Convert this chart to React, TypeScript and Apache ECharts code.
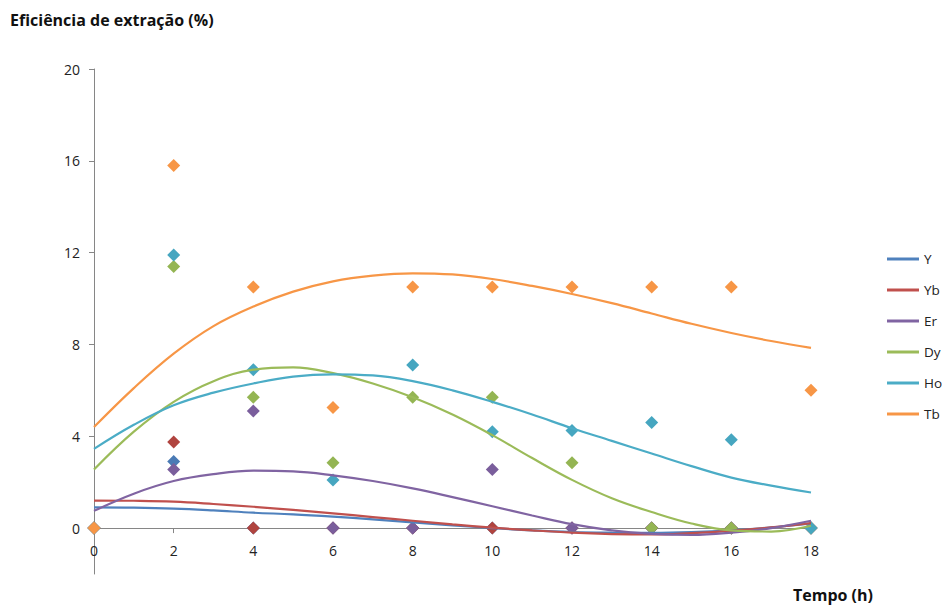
import React, { useEffect, useRef } from "react";
import * as echarts from "echarts";

// Sampling times (h) of the measured points
const hours = [0, 2, 4, 6, 8, 10, 12, 14, 16, 18];

// Measured extraction efficiency (%)
const yPts = [0, 2.9, 0, 0, 0, 0, 0, 0, 0, 0];
const ybPts = [0, 3.75, 0, 0, 0, 0, 0, 0, 0, 0];
const erPts = [0, 2.55, 5.1, 0, 0, 2.55, 0, 0, 0, 0];
const dyPts = [0, 11.4, 5.7, 2.85, 5.7, 5.7, 2.85, 0, 0, 0];
const hoPts = [0, 11.9, 6.9, 2.1, 7.1, 4.2, 4.25, 4.6, 3.85, 0];
const tbPts = [0, 15.8, 10.5, 5.25, 10.5, 10.5, 10.5, 10.5, 10.5, 6.0];

// Trend curves, sampled every hour from 0 to 18 h
const trendHours = [0, 1, 2, 3, 4, 5, 6, 7, 8, 9, 10, 11, 12, 13, 14, 15, 16, 17, 18];
const yTrend = [0.9, 0.89, 0.85, 0.77, 0.67, 0.6, 0.5, 0.38, 0.25, 0.12, 0.0, -0.1, -0.17, -0.2, -0.21, -0.18, -0.1, 0.03, 0.2];
const ybTrend = [1.2, 1.19, 1.15, 1.05, 0.93, 0.79, 0.64, 0.48, 0.32, 0.16, 0.02, -0.1, -0.2, -0.26, -0.28, -0.22, -0.12, 0.03, 0.22];
const erTrend = [0.75, 1.5, 2.05, 2.35, 2.5, 2.47, 2.3, 2.05, 1.73, 1.35, 0.95, 0.55, 0.17, -0.1, -0.25, -0.3, -0.2, 0.0, 0.32];
const dyTrend = [2.55, 4.2, 5.5, 6.4, 6.9, 7.0, 6.75, 6.3, 5.7, 4.95, 4.05, 3.05, 2.1, 1.3, 0.7, 0.2, -0.1, -0.15, 0.1];
const hoTrend = [3.45, 4.5, 5.35, 5.9, 6.3, 6.6, 6.7, 6.65, 6.4, 6.0, 5.5, 4.95, 4.35, 3.8, 3.25, 2.7, 2.2, 1.85, 1.55];
const tbTrend = [4.4, 6.1, 7.6, 8.8, 9.65, 10.3, 10.75, 11.0, 11.1, 11.05, 10.85, 10.55, 10.2, 9.8, 9.35, 8.9, 8.5, 8.15, 7.85];

const names = ["Y", "Yb", "Er", "Dy", "Ho", "Tb"];
const colors = ["#4F81BD", "#C0504D", "#8064A2", "#9BBB59", "#4BACC6", "#F79646"];
const markerColors = ["#4A7AB5", "#B0443F", "#7A5E9C", "#94B553", "#46A6C0", "#F79646"];
const points = [yPts, ybPts, erPts, dyPts, hoPts, tbPts];
const trends = [yTrend, ybTrend, erTrend, dyTrend, hoTrend, tbTrend];

const yTickValues = [0, 4, 8, 12, 16, 20];
const Y_MIN = -2;
const Y_MAX = 20;

const FONT = "'Open Sans', 'Liberation Sans', sans-serif";

const GRID_TOP = 69;
const GRID_BOTTOM = 34;
const CHART_H = 608;

export default function App() {
  const ref = useRef<HTMLDivElement>(null);

  useEffect(() => {
    document.body.style.margin = "0";
    if (!ref.current) return;
    const chart = echarts.init(ref.current, undefined, { renderer: "svg" });

    // lift the x axis from the grid bottom up to y = 0
    const plotH = CHART_H - GRID_TOP - GRID_BOTTOM;
    const xAxisOffset = -((0 - Y_MIN) / (Y_MAX - Y_MIN)) * plotH;

    const scatterSeries = names.map((name, i) => ({
      name,
      type: "scatter",
      symbol: "diamond",
      symbolSize: 13,
      z: 2,
      itemStyle: { color: markerColors[i], opacity: 1 },
      data: hours.map((h, k) => [h, points[i][k]]),
    }));

    const trendSeries = names.map((name, i) => ({
      name,
      type: "line",
      smooth: 0.4,
      showSymbol: false,
      symbol: "none",
      z: 3,
      lineStyle: { color: colors[i], width: 2.2 },
      itemStyle: { color: colors[i] },
      data: trendHours.map((h, k) => [h, trends[i][k]]),
    }));

    chart.setOption({
      animation: false,
      backgroundColor: "#ffffff",
      textStyle: { fontFamily: FONT },
      grid: { left: 94, right: 131, top: GRID_TOP, bottom: GRID_BOTTOM, containLabel: false },
      legend: {
        orient: "vertical",
        left: 887,
        top: 252,
        padding: 0,
        icon: "rect",
        itemWidth: 32,
        itemHeight: 3,
        itemGap: 17,
        textStyle: { fontSize: 13.5, color: "#222", fontFamily: FONT, lineHeight: 14 },
        data: names.map((n, i) => ({ name: n, itemStyle: { color: colors[i] } })),
      },
      xAxis: {
        type: "value",
        min: 0,
        max: 18,
        interval: 2,
        offset: xAxisOffset,
        axisLine: { onZero: false, lineStyle: { color: "#868686", width: 1 } },
        axisTick: { show: true, length: 5, lineStyle: { color: "#868686" } },
        axisLabel: { color: "#222", fontSize: 14, margin: 15, fontFamily: FONT },
        splitLine: { show: false },
      },
      yAxis: {
        type: "value",
        min: Y_MIN,
        max: Y_MAX,
        axisLine: { show: true, onZero: false, lineStyle: { color: "#868686", width: 1 } },
        axisTick: { show: true, length: 5, customValues: yTickValues, lineStyle: { color: "#868686" } },
        axisLabel: { color: "#222", fontSize: 14, margin: 14, fontFamily: FONT, customValues: yTickValues },
        splitLine: { show: false },
      },
      graphic: [
        {
          type: "text",
          left: 10,
          top: 12,
          style: {
            text: "Eficiência de extração (%)",
            font: `bold 16px ${FONT}`,
            fill: "#111",
          },
        },
        {
          type: "text",
          left: 793,
          top: 587,
          style: {
            text: "Tempo (h)",
            font: `bold 16px ${FONT}`,
            fill: "#111",
          },
        },
      ],
      series: [...scatterSeries, ...trendSeries],
    });

    return () => chart.dispose();
  }, []);

  return <div ref={ref} style={{ width: 942, height: 608 }} />;
}
